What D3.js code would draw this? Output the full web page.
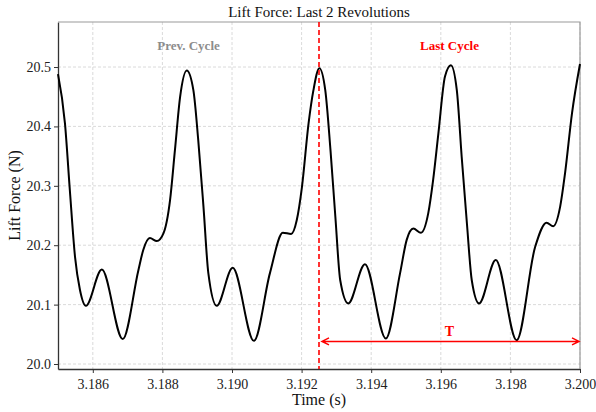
<!DOCTYPE html>
<html>
<head>
<meta charset="utf-8">
<script src="https://cdn.jsdelivr.net/npm/d3@7"></script>
<style>
  body { margin: 0; background: #fff; }
  svg text { font-family: "Liberation Serif", "DejaVu Serif", serif; }
</style>
</head>
<body>
<div id="container"></div>
<script>
// 画布大小
let width = 596;
let height = 412;
let margin = { top: 22, right: 16, bottom: 43, left: 58 };

// 数据：时间 (s) 与升力 (N)
let times = [
  3.18500, 3.18520, 3.18534, 3.18549, 3.18563, 3.18580, 3.18626, 3.18686, 3.18731, 3.18745,
  3.18764, 3.18784, 3.18803, 3.18822, 3.18836, 3.18851, 3.18870, 3.18889, 3.18903, 3.18918,
  3.18932, 3.18956, 3.19002, 3.19063, 3.19109, 3.19146, 3.19170, 3.19186, 3.19201, 3.19220,
  3.19234, 3.19251, 3.19268, 3.19283, 3.19297, 3.19311, 3.19334, 3.19382, 3.19442, 3.19483,
  3.19502, 3.19521, 3.19543, 3.19564, 3.19578, 3.19593, 3.19612, 3.19629, 3.19646, 3.19660,
  3.19675, 3.19689, 3.19710, 3.19758, 3.19818, 3.19871, 3.19904, 3.19923, 3.19943, 3.19957,
  3.19977, 3.20000
];
let lift = [
  20.488, 20.405, 20.293, 20.180, 20.125, 20.098, 20.159, 20.042, 20.158, 20.192,
  20.212, 20.207, 20.220, 20.276, 20.360, 20.450, 20.494, 20.461, 20.377, 20.265,
  20.153, 20.098, 20.162, 20.039, 20.153, 20.221, 20.219, 20.242, 20.298, 20.405,
  20.461, 20.498, 20.461, 20.360, 20.248, 20.141, 20.102, 20.168, 20.043, 20.153,
  20.209, 20.228, 20.221, 20.254, 20.310, 20.388, 20.484, 20.503, 20.461, 20.349,
  20.237, 20.141, 20.102, 20.175, 20.040, 20.197, 20.238, 20.232, 20.265, 20.321,
  20.422, 20.505
];

let xTicks = [3.186, 3.188, 3.190, 3.192, 3.194, 3.196, 3.198, 3.200];
let yTicks = [20.0, 20.1, 20.2, 20.3, 20.4, 20.5];

let cycleStart = 3.1925;
let cycleEnd = 3.200;
let arrowLevel = 20.038;
let cycleLabels = [
  { text: 'Prev. Cycle', t: 3.18875, color: '#8c8c8c' },
  { text: 'Last Cycle', t: 3.19625, color: '#ff0000' }
];

let serif = '"Liberation Serif", "DejaVu Serif", serif';

let svg = d3.create('svg').attr('width', width).attr('height', height);

let innerWidth = width - margin.left - margin.right;
let innerHeight = height - margin.top - margin.bottom;

let xScale = d3.scaleLinear()
  .domain([3.185, 3.200])
  .range([margin.left, margin.left + innerWidth]);
let yScale = d3.scaleLinear()
  .domain([19.9916, 20.5758])
  .range([margin.top + innerHeight, margin.top]);

// 网格线
let grid = svg.append('g').attr('stroke', '#d0d0d0').attr('stroke-width', 0.8).attr('stroke-dasharray', '3,2');
grid.selectAll('.gx').data(xTicks).enter().append('line')
  .attr('x1', d => xScale(d)).attr('x2', d => xScale(d))
  .attr('y1', margin.top).attr('y2', margin.top + innerHeight);
grid.selectAll('.gy').data(yTicks).enter().append('line')
  .attr('x1', margin.left).attr('x2', margin.left + innerWidth)
  .attr('y1', d => yScale(d)).attr('y2', d => yScale(d));

// 坐标轴
let xAxis = svg.append('g')
  .attr('transform', `translate(0,${margin.top + innerHeight})`)
  .call(d3.axisBottom(xScale).tickValues(xTicks).tickFormat(d3.format('.3f')).tickSize(4).tickSizeOuter(0));
let yAxis = svg.append('g')
  .attr('transform', `translate(${margin.left},0)`)
  .call(d3.axisLeft(yScale).tickValues(yTicks).tickFormat(d3.format('.1f')).tickSize(4).tickSizeOuter(0));
[xAxis, yAxis].forEach(a => {
  a.attr('font-family', serif).attr('font-size', 14);
  a.select('.domain').attr('stroke', '#333').attr('stroke-width', 1.3);
  a.selectAll('.tick line').attr('stroke', '#333');
  a.selectAll('.tick text').attr('fill', '#222').attr('font-family', serif).attr('font-size', 14);
});
xAxis.selectAll('.tick text').attr('dy', '0.95em');

// 上、右边框
svg.append('path')
  .attr('d', `M${margin.left},${margin.top}H${margin.left + innerWidth}V${margin.top + innerHeight}`)
  .attr('fill', 'none').attr('stroke', '#999').attr('stroke-width', 1.2);

// 曲线
let line = d3.line()
  .x((d, i) => xScale(times[i]))
  .y(d => yScale(d))
  .curve(d3.curveMonotoneX);
svg.append('path')
  .datum(lift)
  .attr('d', line)
  .attr('fill', 'none')
  .attr('stroke', '#000')
  .attr('stroke-width', 2);

// 周期分界线
svg.append('line')
  .attr('x1', xScale(cycleStart)).attr('x2', xScale(cycleStart))
  .attr('y1', margin.top).attr('y2', margin.top + innerHeight)
  .attr('stroke', '#ff0000').attr('stroke-width', 1.6).attr('stroke-dasharray', '5,3');

// 周期箭头 T
let ax1 = xScale(cycleStart) + 3, ax2 = xScale(cycleEnd) - 1, ay = yScale(arrowLevel);
svg.append('path')
  .attr('d', `M${ax1},${ay}H${ax2}M${ax1 + 7},${ay - 3.5}L${ax1},${ay}L${ax1 + 7},${ay + 3.5}M${ax2 - 7},${ay - 3.5}L${ax2},${ay}L${ax2 - 7},${ay + 3.5}`)
  .attr('fill', 'none').attr('stroke', '#ff0000').attr('stroke-width', 1.5);
svg.append('text')
  .attr('x', xScale((cycleStart + cycleEnd) / 2)).attr('y', ay - 5)
  .attr('text-anchor', 'middle').attr('font-size', 14).attr('font-weight', 'bold')
  .attr('fill', '#ff0000').text('T');

// 周期标注
svg.selectAll('.cycle-label').data(cycleLabels).enter().append('text')
  .attr('x', d => xScale(d.t)).attr('y', 50)
  .attr('text-anchor', 'middle').attr('font-size', 13).attr('font-weight', 'bold')
  .attr('fill', d => d.color).text(d => d.text);

// 标题与轴标签
svg.append('text').attr('x', margin.left + innerWidth / 2).attr('y', 17)
  .attr('text-anchor', 'middle').attr('font-size', 15).attr('fill', '#111')
  .text('Lift Force: Last 2 Revolutions');
svg.append('text').attr('x', margin.left + innerWidth / 2).attr('y', 405)
  .attr('text-anchor', 'middle').attr('font-size', 16).attr('fill', '#111')
  .text('Time (s)');
svg.append('text')
  .attr('transform', `translate(20,${margin.top + innerHeight / 2}) rotate(-90)`)
  .attr('text-anchor', 'middle').attr('font-size', 16).attr('fill', '#111')
  .text('Lift Force (N)');

d3.select('#container').append(() => svg.node());
</script>
</body>
</html>
